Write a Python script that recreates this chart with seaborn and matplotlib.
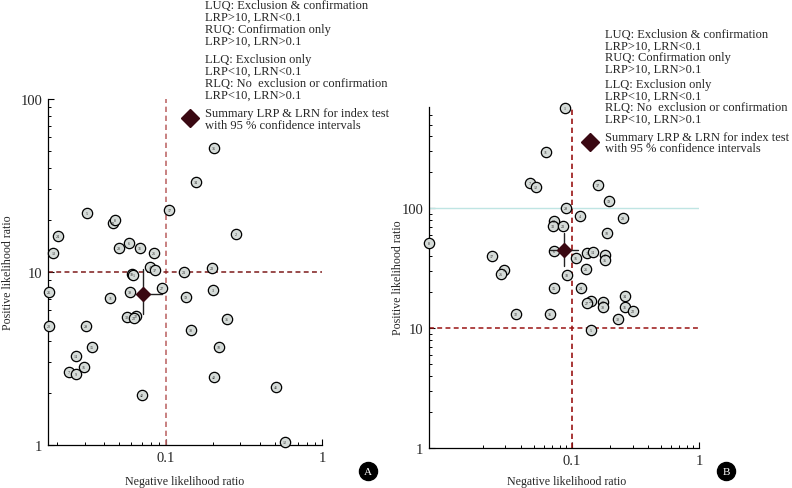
import numpy as np
import pandas as pd
import matplotlib
matplotlib.use("Agg")
import matplotlib.pyplot as plt
import seaborn as sns
from matplotlib.lines import Line2D
from matplotlib.ticker import FixedLocator, FixedFormatter, NullFormatter

# ---------------- data: panel A ----------------
a_labels = [5, 24, 13, 33, 8, 28, 6, 31, 26, 4, 37, 17, 34, 35, 2, 23, 21, 18, 1, 27,
            3, 19, 36, 38, 10, 40, 41, 12, 25, 20, 11, 39, 30, 32, 22, 29, 15, 14, 16, 7, 9, 42]
a_lrn = [0.0312, 0.0203, 0.0189, 0.0457, 0.047, 0.050, 0.058, 0.068, 0.084, 0.079, 0.085,
         0.105, 0.156, 0.203, 0.281, 0.197, 0.130, 0.0605, 0.0616, 0.094, 0.200, 0.134,
         0.246, 0.145, 0.219, 0.203, 0.507, 0.579, 0.0178, 0.0178, 0.0438, 0.0588, 0.0562,
         0.064, 0.0625, 0.0307, 0.0336, 0.0265, 0.0298, 0.0239, 0.0265, 0.070]
a_lrp = [21.9, 16.1, 12.9, 19.2, 20.0, 13.8, 14.7, 13.8, 12.9, 10.7, 10.3, 22.8, 33.0, 52.0,
         16.6, 10.5, 10.0, 9.7, 9.6, 8.1, 7.9, 7.2, 5.35, 4.62, 3.68, 2.47, 2.16, 1.04,
         7.66, 4.87, 7.08, 7.66, 5.5, 5.6, 5.45, 4.87, 3.68, 3.27, 2.82, 2.64, 2.57, 1.95]
a_sum_lrn, a_sum_lrp = 0.071, 7.5
a_sum_lrn_ci = [0.066, 0.094]
a_sum_lrp_ci = [5.7, 10.4]

# ---------------- data: panel B ----------------
b_labels = [1, 11, 7, 12, 37, 19, 29, 4, 28, 13, 33, 23, 10, 8, 6, 17, 9, 26, 16, 3, 14,
            2, 35, 25, 18, 24, 15, 21, 27, 20, 38, 34, 31, 22, 30, 5, 32, 36]
b_lrn = [0.088, 0.0624, 0.0467, 0.0521, 0.160, 0.195, 0.0897, 0.116, 0.252, 0.072, 0.071,
         0.085, 0.189, 0.0075, 0.072, 0.0234, 0.029, 0.0276, 0.107, 0.131, 0.146, 0.182,
         0.183, 0.129, 0.091, 0.118, 0.072, 0.141, 0.131, 0.175, 0.175, 0.261, 0.261,
         0.302, 0.23, 0.141, 0.0362, 0.0671]
b_lrp = [690, 293, 162, 150, 155, 114, 100, 86, 82.6, 78, 71, 71, 61.9, 51, 43.8, 39.8,
         30.4, 28.2, 38.3, 42.2, 43, 40.6, 36.9, 31, 27.6, 21.5, 21.5, 16.8, 16.2, 16.5,
         15, 18.5, 15, 13.9, 11.9, 9.6, 13.1, 13.1]
b_sum_lrn, b_sum_lrp = 0.086, 44.7
b_sum_lrn_ci = [0.067, 0.111]
b_sum_lrp_ci = [32.9, 61.9]

# ---------------- ticks ----------------
x_major = [0.1, 1]
x_major_labels = ["0.1", "1"]
x_minor = [0.02, 0.03, 0.04, 0.05, 0.06, 0.07, 0.08, 0.09,
           0.2, 0.3, 0.4, 0.5, 0.6, 0.7, 0.8, 0.9]
a_y_major = [1, 10, 100]
a_y_major_labels = ["1", "10", "100"]
a_y_minor = [2, 3, 4, 5, 6, 7, 8, 9, 20, 30, 40, 50, 60, 70, 80, 90]
b_y_major = [1, 10, 100]
b_y_major_labels = ["1", "10", "100"]
b_y_minor = [2, 3, 4, 5, 6, 7, 8, 9, 20, 30, 40, 50, 60, 70, 80, 90,
             200, 300, 400, 500, 600]

legend_lines = ["LUQ: Exclusion & confirmation", "LRP>10, LRN<0.1",
                "RUQ: Confirmation only", "LRP>10, LRN>0.1",
                "LLQ: Exclusion only", "LRP<10, LRN<0.1",
                "RLQ: No  exclusion or confirmation", "LRP<10, LRN>0.1"]
summary_lines = ["Summary LRP & LRN for index test", "with 95 % confidence intervals"]

# ---------------- style ----------------
sns.set_style("ticks")
plt.rcParams['font.family'] = ['Liberation Serif', 'DejaVu Serif']

W, H = 792, 489
fig = plt.figure(figsize=(7.92, 4.89), dpi=100)

def rect(l, t, r, b):
    return [l / W, 1 - b / H, (r - l) / W, (b - t) / H]

axA = fig.add_axes(rect(48, 100, 322, 446))
axB = fig.add_axes(rect(429, 108, 699, 449))

DIAMOND = '#3a0812'
DASH = (0, (3.2, 2.2))


def panel(ax, labels, lrn, lrp, xlim, ylim, ymaj, ymaj_lab, ymin,
          s_x, s_y, s_xci, s_yci, vcol, hcol, cyan=False):
    ax.set_xscale('log')
    ax.set_yscale('log')
    df = pd.DataFrame({'LRN': lrn, 'LRP': lrp, 'Study': labels})
    sns.scatterplot(data=df, x='LRN', y='LRP', s=55, color='#d5dbd8',
                    edgecolor='black', linewidth=0.9, ax=ax, zorder=4,
                    clip_on=False, legend=False)
    for x, y, l in zip(df['LRN'], df['LRP'], df['Study']):
        ax.text(x, y, str(l), fontsize=3.0, ha='center', va='center',
                color='#333333', zorder=5, clip_on=False)
    ax.set_xlim(*xlim)
    ax.set_ylim(*ylim)
    ax.axvline(0.1, color=vcol, ls=DASH, lw=1.2, zorder=2)
    ax.axhline(10, color=hcol, ls=DASH, lw=1.1, zorder=2)
    if cyan:
        ax.axhline(100, color='#bfe5e3', lw=1.0, zorder=1)
    # summary with CI
    ax.plot([s_x, s_x], s_yci, color='#222222', lw=1.0, zorder=6)
    ax.plot(s_xci, [s_y, s_y], color='#222222', lw=1.0, zorder=6)
    ax.plot([s_x], [s_y], marker='D', ms=6.8, color=DIAMOND, ls='none', zorder=7)
    # axes styling
    ax.xaxis.set_major_locator(FixedLocator(x_major))
    ax.xaxis.set_major_formatter(FixedFormatter(x_major_labels))
    ax.xaxis.set_minor_locator(FixedLocator(x_minor))
    ax.xaxis.set_minor_formatter(NullFormatter())
    ax.yaxis.set_major_locator(FixedLocator(ymaj))
    ax.yaxis.set_major_formatter(FixedFormatter(ymaj_lab))
    ax.yaxis.set_minor_locator(FixedLocator(ymin))
    ax.yaxis.set_minor_formatter(NullFormatter())
    ax.tick_params(which='major', direction='in', length=4.5, width=0.8,
                   labelsize=10.5, pad=4, color='black')
    ax.tick_params(which='minor', direction='in', length=2.5, width=0.7, color='black')
    for sp in ['top', 'right']:
        ax.spines[sp].set_visible(False)
    for sp in ['left', 'bottom']:
        ax.spines[sp].set_linewidth(0.9)
        ax.spines[sp].set_color('black')
    ax.set_xlabel('')
    ax.set_ylabel('')
    ax.set_facecolor('white')


panel(axA, a_labels, a_lrn, a_lrp, (0.0175, 1), (1, 100),
      a_y_major, a_y_major_labels, a_y_minor,
      a_sum_lrn, a_sum_lrp, a_sum_lrn_ci, a_sum_lrp_ci,
      vcol='#bf6b6b', hcol='#7d1a1a')
panel(axB, b_labels, b_lrn, b_lrp, (0.0075, 1), (1, 700),
      b_y_major, b_y_major_labels, b_y_minor,
      b_sum_lrn, b_sum_lrp, b_sum_lrn_ci, b_sum_lrp_ci,
      vcol='#9a1414', hcol='#9a1414', cyan=True)


def ftext(x, y, s, **kw):
    fig.text(x / W, 1 - y / H, s, **kw)


# axis labels
ftext(185, 482, "Negative likelihood ratio", ha='center', va='center', fontsize=8.6)
ftext(567, 482, "Negative likelihood ratio", ha='center', va='center', fontsize=8.6)
ftext(8, 273, "Positive likelihood ratio", ha='center', va='center', rotation=90, fontsize=8.6)
ftext(398, 278, "Positive likelihood ratio", ha='center', va='center', rotation=90, fontsize=8.6)

# legends
a_ys = [6, 18, 30, 42, 60, 72, 84, 96]
b_ys = [35, 46.5, 58, 69.5, 85, 96.5, 108, 119.5]
for txt, ya, yb in zip(legend_lines, a_ys, b_ys):
    ftext(205, ya, txt, ha='left', va='center', fontsize=9)
    ftext(605, yb, txt, ha='left', va='center', fontsize=9)
for txt, ya, yb in zip(summary_lines, [114, 126], [138, 149.5]):
    ftext(205, ya, txt, ha='left', va='center', fontsize=9)
    ftext(605, yb, txt, ha='left', va='center', fontsize=9)
for (dx, dy) in [(190, 119), (590, 143)]:
    fig.add_artist(Line2D([dx / W], [1 - dy / H], transform=fig.transFigure,
                          marker='D', ms=9.5, color=DIAMOND, ls='none'))

# panel letters
for (px, py, lab) in [(368, 472, 'A'), (726, 472, 'B')]:
    fig.add_artist(Line2D([px / W], [1 - py / H], transform=fig.transFigure,
                          marker='o', ms=13, color='black', ls='none'))
    ftext(px, py + 0.5, lab, ha='center', va='center', fontsize=8, color='white')

fig.savefig("out.png", dpi=100)
